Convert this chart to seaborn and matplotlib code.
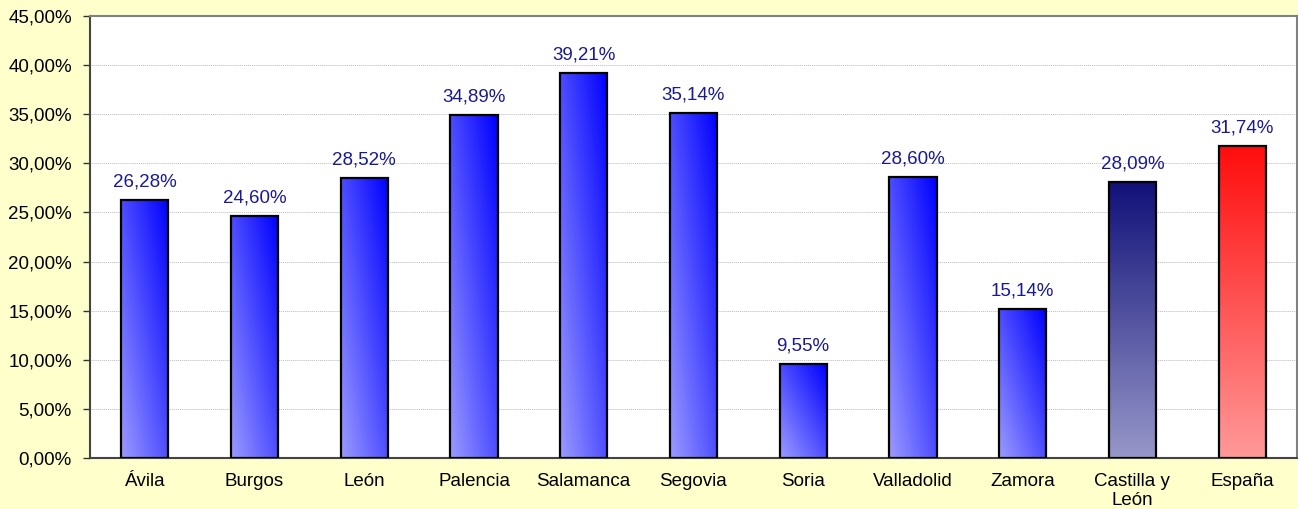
import numpy as np
import pandas as pd
import matplotlib
matplotlib.use("Agg")
import matplotlib.pyplot as plt
import seaborn as sns
from matplotlib.colors import LinearSegmentedColormap

categories = ["Ávila", "Burgos", "León", "Palencia", "Salamanca", "Segovia",
              "Soria", "Valladolid", "Zamora", "Castilla y\nLeón", "España"]
values = [26.28, 24.60, 28.52, 34.89, 39.21, 35.14, 9.55, 28.60, 15.14, 28.09, 31.74]
labels = ["26,28%", "24,60%", "28,52%", "34,89%", "39,21%", "35,14%",
          "9,55%", "28,60%", "15,14%", "28,09%", "31,74%"]
yticks = [0, 5, 10, 15, 20, 25, 30, 35, 40, 45]
ytick_labels = ["0,00%", "5,00%", "10,00%", "15,00%", "20,00%", "25,00%",
                "30,00%", "35,00%", "40,00%", "45,00%"]

df = pd.DataFrame({"cat": categories, "val": values})

sns.set_style("white")
plt.rcParams['font.family'] = ['Liberation Sans', 'DejaVu Sans']

fig = plt.figure(figsize=(12.98, 5.09), dpi=100, facecolor="#FFFFCC")
ax = fig.add_axes([0.0693, 0.1002, 0.9299, 0.8684])
ax.set_facecolor("white")

sns.barplot(data=df, x="cat", y="val", ax=ax, width=0.43,
            color="#5555FF", edgecolor="black", linewidth=1.6, zorder=3)

ax.set_xlim(-0.5, 10.5)
ax.set_ylim(0, 45)

blue_cmap = LinearSegmentedColormap.from_list("b", ["#9A9AFF", "#0000FF"])
navy_cmap = LinearSegmentedColormap.from_list("n", ["#9696C9", "#12127A"])
red_cmap = LinearSegmentedColormap.from_list("r", ["#FF9898", "#FF0E0E"])

n = 64
u = np.linspace(0, 1, n)
U, V = np.meshgrid(u, u)  # V: 0 bottom -> 1 top (origin lower)
diag = 0.5 * U + 0.5 * V
vert = V

for i, p in enumerate(ax.patches):
    x0, y0 = p.get_x(), p.get_y()
    w, h = p.get_width(), p.get_height()
    if i < 9:
        grad, cmap = diag, blue_cmap
    elif i == 9:
        grad, cmap = vert, navy_cmap
    else:
        grad, cmap = vert, red_cmap
    im = ax.imshow(grad, cmap=cmap, vmin=0, vmax=1, origin="lower",
                   extent=[x0, x0 + w, y0, y0 + h], aspect="auto",
                   interpolation="bilinear", zorder=3.5)
    im.set_clip_path(p)
    p.set_facecolor("none")
    p.set_zorder(4)

ax.set_xlim(-0.5, 10.5)
ax.set_ylim(0, 45)

for i, p in enumerate(ax.patches):
    ax.annotate(labels[i], (p.get_x() + p.get_width() / 2, p.get_height()),
                xytext=(0, 7), textcoords="offset points", ha="center", va="bottom",
                color="#1A1A8F", fontsize=13.5, zorder=6)

ax.set_yticks(yticks)
ax.set_yticklabels(ytick_labels, fontsize=13.5, color="black")
ax.set_xticks(range(len(categories)))
ax.set_xticklabels(categories, fontsize=13.5, color="black", linespacing=1.15)
ax.tick_params(axis="x", length=0, pad=11)
ax.set_xticks(np.arange(-0.5, 11, 1), minor=True)
ax.tick_params(axis="x", which="minor", length=5, width=1, color="#333333", direction="out")
ax.tick_params(axis="y", length=5, width=1, color="#333333", direction="out", pad=8, left=True)
ax.set_xlabel("")
ax.set_ylabel("")

ax.yaxis.grid(True, linestyle=(0, (1, 1)), color="#BBBBBB", linewidth=0.7, zorder=0)
ax.set_axisbelow(True)

for s in ["top", "right"]:
    ax.spines[s].set_color("#808080")
    ax.spines[s].set_linewidth(1.5)
for s in ["left", "bottom"]:
    ax.spines[s].set_color("#444444")
    ax.spines[s].set_linewidth(1.5)

fig.savefig("out.png", dpi=100, facecolor=fig.get_facecolor())
